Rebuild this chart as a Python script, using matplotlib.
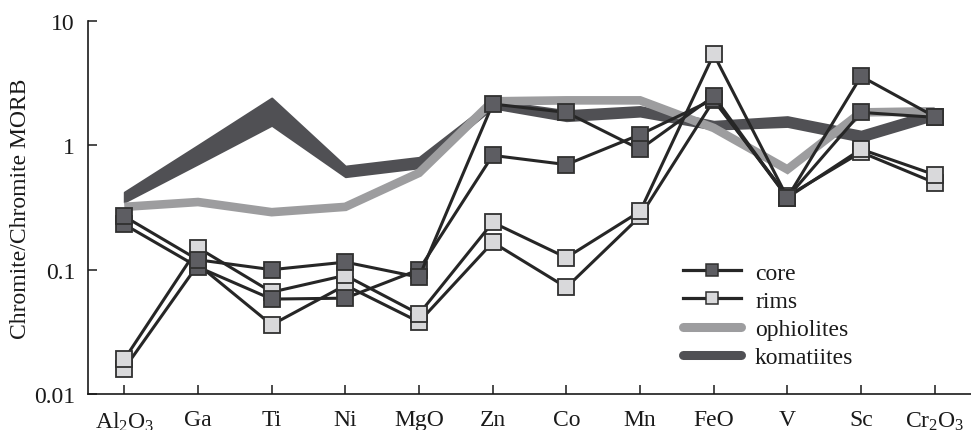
import matplotlib
matplotlib.use("Agg")
import matplotlib.pyplot as plt
from matplotlib.lines import Line2D
from matplotlib.ticker import FixedLocator, FixedFormatter, NullLocator
import numpy as np

# ---------------- data ----------------
categories = ['Al$_2$O$_3$', 'Ga', 'Ti', 'Ni', 'MgO', 'Zn', 'Co', 'Mn',
              'FeO', 'V', 'Sc', 'Cr$_2$O$_3$']

core_1 = [0.268, 0.12, 0.100, 0.115, 0.087, 2.15, 1.84, 0.93, 2.48, 0.38, 3.59, 1.70]
core_2 = [0.231, 0.105, 0.058, 0.059, 0.100, 0.83, 0.70, 1.22, 2.35, 0.38, 1.84, 1.68]
rims_1 = [0.019, 0.150, 0.066, 0.090, 0.044, 0.24, 0.125, 0.294, 5.40, 0.38, 0.93, 0.58]
rims_2 = [0.016, 0.110, 0.036, 0.075, 0.038, 0.166, 0.072, 0.268, 2.30, 0.39, 0.88, 0.50]

ophiolites = [0.32, 0.35, 0.29, 0.32, 0.60, 2.26, 2.30, 2.30, 1.38, 0.64, 1.84, 1.88]
komatiites_upper = [0.42, 1.00, 2.40, 0.68, 0.80, 2.30, 1.90, 2.05, 1.56, 1.70, 1.30, 1.95]
komatiites_lower = [0.35, 0.71, 1.45, 0.56, 0.66, 2.00, 1.58, 1.72, 1.35, 1.42, 1.08, 1.62]

yticks = [0.01, 0.1, 1, 10]
yticklabels = ['0.01', '0.1', '1', '10']

# ---------------- style ----------------
plt.rcParams['font.family'] = ['Liberation Serif', 'DejaVu Serif']
plt.rcParams['mathtext.fontset'] = 'custom'
plt.rcParams['mathtext.rm'] = 'Liberation Serif'
plt.rcParams['mathtext.it'] = 'Liberation Serif:italic'
plt.rcParams['mathtext.bf'] = 'Liberation Serif:bold'

FS = 17
line_col = '#262626'
dark_face = '#5d5d62'
light_face = '#d9d9db'
edge_col = '#303030'
oph_col = '#9d9d9f'
kom_col = '#505054'

W, H = 971, 431
fig = plt.figure(figsize=(W / 100, H / 100), dpi=100)
left_px, right_px, top_px, bottom_px = 87.5, 971, 22, 395
ax = fig.add_axes([left_px / W, 1 - bottom_px / H,
                   (right_px - left_px) / W, (bottom_px - top_px) / H])

x = np.arange(len(categories))

# komatiites band
ax.fill_between(x, komatiites_lower, komatiites_upper, color=kom_col,
                linewidth=1.5, edgecolor=kom_col, zorder=2)
# ophiolites line
ax.plot(x, ophiolites, color=oph_col, lw=6.2, solid_capstyle='butt',
        solid_joinstyle='miter', zorder=3)

mk = dict(marker='s', markersize=12, markeredgewidth=1.3,
          markeredgecolor=edge_col, color=line_col, lw=2.2, zorder=4)
for r in (rims_2, rims_1):
    ax.plot(x, r, markerfacecolor=light_face, **mk)
for c in (core_2, core_1):
    ax.plot(x, c, markerfacecolor=dark_face, **mk)

ax.set_yscale('log')
ax.set_ylim(0.01, 10)
ax.set_xlim(-0.5, (right_px - 124) / 73.7)

ax.yaxis.set_major_locator(FixedLocator(yticks))
ax.yaxis.set_major_formatter(FixedFormatter(yticklabels))
ax.yaxis.set_minor_locator(NullLocator())
ax.set_xticks(x)
ax.set_xticklabels(categories)

for s in ('top', 'right'):
    ax.spines[s].set_visible(False)
for s in ('left', 'bottom'):
    ax.spines[s].set_linewidth(1.2)
    ax.spines[s].set_color('#1a1a1a')

ax.tick_params(axis='both', direction='in', length=6.5, width=1.1,
               color='#1a1a1a', labelsize=FS, labelcolor='#1a1a1a')
ax.tick_params(axis='y', pad=9)
ax.tick_params(axis='x', pad=11)

ax.set_ylabel('Chromite/Chromite MORB', fontsize=FS, color='#1a1a1a')
ax.yaxis.set_label_coords((31 - left_px) / (right_px - left_px), 0.5)

# legend
handles = [
    Line2D([], [], color=line_col, lw=2.3, marker='s', markersize=9,
           markerfacecolor=dark_face, markeredgecolor=edge_col, markeredgewidth=1.1),
    Line2D([], [], color=line_col, lw=2.3, marker='s', markersize=9,
           markerfacecolor=light_face, markeredgecolor=edge_col, markeredgewidth=1.1),
    Line2D([], [], color=oph_col, lw=6.5, solid_capstyle='round'),
    Line2D([], [], color=kom_col, lw=6.5, solid_capstyle='round'),
]
labels = ['core', 'rims', 'ophiolites', 'komatiites']
leg = ax.legend(handles, labels, loc='upper left',
                bbox_to_anchor=(683 / W, 1 - 263 / H),
                bbox_transform=fig.transFigure, frameon=False,
                fontsize=FS, handlelength=2.45, handletextpad=0.6,
                labelspacing=0.28, borderpad=0, borderaxespad=0)
for t in leg.get_texts():
    t.set_color('#1a1a1a')

fig.savefig('out.png', dpi=100)
